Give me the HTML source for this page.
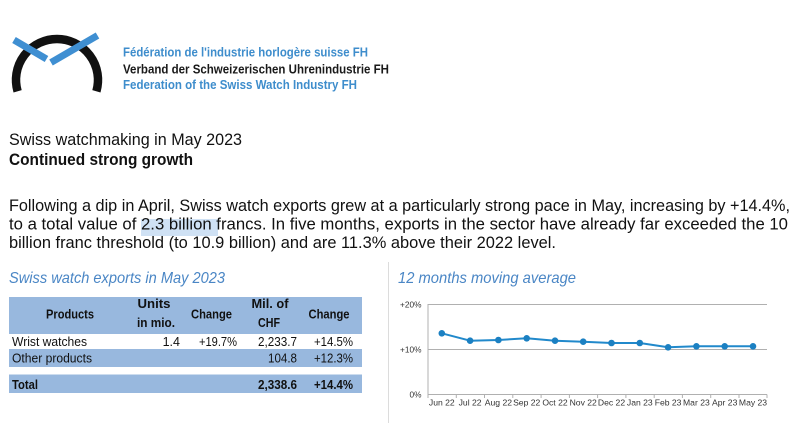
<!DOCTYPE html>
<html>
<head>
<meta charset="utf-8">
<style>
html,body{margin:0;padding:0;background:#fff;}
svg{display:block;}
text{font-family:"Liberation Sans",sans-serif;}
</style>
</head>
<body>
<svg width="800" height="423" viewBox="0 0 800 423" xmlns="http://www.w3.org/2000/svg">
  <rect width="800" height="423" fill="#ffffff"/>

  <!-- Logo -->
  <path d="M 17.6 91.3 A 41 41 0 1 1 96.4 91.3" fill="none" stroke="#111111" stroke-width="8.5"/>
  <line x1="14" y1="40" x2="46.5" y2="59" stroke="#3f8fd2" stroke-width="7"/>
  <line x1="51" y1="62.5" x2="97.5" y2="35.5" stroke="#3f8fd2" stroke-width="7"/>

  <text x="123" y="56.5" font-size="12.5" font-weight="bold" fill="#3e8dcc" textLength="245" lengthAdjust="spacingAndGlyphs">Fédération de l'industrie horlogère suisse FH</text>
  <text x="123" y="73.5" font-size="12.5" font-weight="bold" fill="#1a1a1a" textLength="266" lengthAdjust="spacingAndGlyphs">Verband der Schweizerischen Uhrenindustrie FH</text>
  <text x="123" y="89" font-size="12.5" font-weight="bold" fill="#3e8dcc" textLength="234" lengthAdjust="spacingAndGlyphs">Federation of the Swiss Watch Industry FH</text>

  <!-- Titles -->
  <text x="9" y="145" font-size="16.5" fill="#111111" textLength="233" lengthAdjust="spacingAndGlyphs">Swiss watchmaking in May 2023</text>
  <text x="9" y="165" font-size="16.5" font-weight="bold" fill="#111111" textLength="184" lengthAdjust="spacingAndGlyphs">Continued strong growth</text>

  <!-- Paragraph -->
  <rect x="141" y="219" width="77" height="17" fill="#cfe1f4"/>
  <text x="9" y="211" font-size="16.5" fill="#111111" textLength="781" lengthAdjust="spacingAndGlyphs">Following a dip in April, Swiss watch exports grew at a particularly strong pace in May, increasing by +14.4%,</text>
  <text x="9" y="229.5" font-size="16.5" fill="#111111" textLength="779" lengthAdjust="spacingAndGlyphs">to a total value of 2.3 billion francs. In five months, exports in the sector have already far exceeded the 10</text>
  <text x="9" y="248" font-size="16.5" fill="#111111" textLength="547" lengthAdjust="spacingAndGlyphs">billion franc threshold (to 10.9 billion) and are 11.3% above their 2022 level.</text>

  <!-- Separator -->
  <line x1="388.5" y1="262" x2="388.5" y2="423" stroke="#dcdcdc" stroke-width="1"/>

  <!-- Section titles -->
  <text x="9" y="283" font-size="16" font-style="italic" fill="#4a86c5" textLength="216" lengthAdjust="spacingAndGlyphs">Swiss watch exports in May 2023</text>
  <text x="398" y="283" font-size="16" font-style="italic" fill="#4a86c5" textLength="178" lengthAdjust="spacingAndGlyphs">12 months moving average</text>

  <!-- Table -->
  <rect x="9" y="297" width="353" height="37" fill="#98b8de"/>
  <rect x="9" y="349" width="353" height="18" fill="#98b8de"/>
  <rect x="9" y="374.5" width="353" height="18.5" fill="#98b8de"/>

  <g font-size="12.5" font-weight="bold" fill="#111111">
    <text x="70" y="318.5" text-anchor="middle" textLength="48" lengthAdjust="spacingAndGlyphs">Products</text>
    <text x="154" y="308" text-anchor="middle" textLength="33" lengthAdjust="spacingAndGlyphs">Units</text>
    <text x="156" y="327" text-anchor="middle" textLength="38" lengthAdjust="spacingAndGlyphs">in mio.</text>
    <text x="211.5" y="318.5" text-anchor="middle" textLength="41" lengthAdjust="spacingAndGlyphs">Change</text>
    <text x="270" y="308" text-anchor="middle" textLength="37" lengthAdjust="spacingAndGlyphs">Mil. of</text>
    <text x="269" y="327" text-anchor="middle" textLength="22" lengthAdjust="spacingAndGlyphs">CHF</text>
    <text x="329" y="318.5" text-anchor="middle" textLength="41" lengthAdjust="spacingAndGlyphs">Change</text>
  </g>

  <g font-size="12.5" fill="#111111">
    <text x="12" y="346" textLength="75" lengthAdjust="spacingAndGlyphs">Wrist watches</text>
    <text x="180" y="346" text-anchor="end">1.4</text>
    <text x="237" y="346" text-anchor="end" textLength="38" lengthAdjust="spacingAndGlyphs">+19.7%</text>
    <text x="297" y="346" text-anchor="end" textLength="39" lengthAdjust="spacingAndGlyphs">2,233.7</text>
    <text x="353" y="346" text-anchor="end" textLength="39" lengthAdjust="spacingAndGlyphs">+14.5%</text>

    <text x="12" y="362.5" textLength="80" lengthAdjust="spacingAndGlyphs">Other products</text>
    <text x="297" y="362.5" text-anchor="end" textLength="29" lengthAdjust="spacingAndGlyphs">104.8</text>
    <text x="353" y="362.5" text-anchor="end" textLength="39" lengthAdjust="spacingAndGlyphs">+12.3%</text>
  </g>
  <g font-size="12.5" font-weight="bold" fill="#111111">
    <text x="12" y="389" textLength="26" lengthAdjust="spacingAndGlyphs">Total</text>
    <text x="297" y="389" text-anchor="end" textLength="39" lengthAdjust="spacingAndGlyphs">2,338.6</text>
    <text x="353" y="389" text-anchor="end" textLength="39" lengthAdjust="spacingAndGlyphs">+14.4%</text>
  </g>

  <!-- Chart -->
  <g stroke="#b0b0b0" stroke-width="1" fill="none">
    <line x1="428" y1="304.5" x2="767" y2="304.5"/>
    <line x1="428" y1="349.5" x2="767" y2="349.5"/>
    <line x1="428" y1="394.5" x2="767" y2="394.5"/>
    <line x1="428" y1="304" x2="428" y2="398"/>
    <line x1="456.3" y1="394.5" x2="456.3" y2="398"/>
    <line x1="484.5" y1="394.5" x2="484.5" y2="398"/>
    <line x1="512.8" y1="394.5" x2="512.8" y2="398"/>
    <line x1="541.1" y1="394.5" x2="541.1" y2="398"/>
    <line x1="569.4" y1="394.5" x2="569.4" y2="398"/>
    <line x1="597.6" y1="394.5" x2="597.6" y2="398"/>
    <line x1="625.9" y1="394.5" x2="625.9" y2="398"/>
    <line x1="654.2" y1="394.5" x2="654.2" y2="398"/>
    <line x1="682.4" y1="394.5" x2="682.4" y2="398"/>
    <line x1="710.7" y1="394.5" x2="710.7" y2="398"/>
    <line x1="739" y1="394.5" x2="739" y2="398"/>
    <line x1="767" y1="394.5" x2="767" y2="398"/>
  </g>

  <g font-size="8.3" fill="#333333">
    <text x="421.5" y="307.5" text-anchor="end">+20%</text>
    <text x="421.5" y="352.5" text-anchor="end">+10%</text>
    <text x="421.5" y="397.5" text-anchor="end">0%</text>
  </g>
  <g font-size="8.6" fill="#333333" text-anchor="middle">
    <text x="441.8" y="405.5">Jun 22</text>
    <text x="470.1" y="405.5">Jul 22</text>
    <text x="498.4" y="405.5">Aug 22</text>
    <text x="526.7" y="405.5">Sep 22</text>
    <text x="555" y="405.5">Oct 22</text>
    <text x="583.2" y="405.5">Nov 22</text>
    <text x="611.5" y="405.5">Dec 22</text>
    <text x="639.8" y="405.5">Jan 23</text>
    <text x="668.1" y="405.5">Feb 23</text>
    <text x="696.4" y="405.5">Mar 23</text>
    <text x="724.7" y="405.5">Apr 23</text>
    <text x="753" y="405.5">May 23</text>
  </g>

  <polyline fill="none" stroke="#2189cb" stroke-width="2" stroke-linejoin="round"
    points="441.8,333.3 470.1,340.7 498.4,340 526.7,338.3 555,340.7 583.2,341.7 611.5,343 639.8,343 668.1,347.3 696.4,346.3 724.7,346.3 753,346.3"/>
  <g fill="#1b80c2">
    <circle cx="441.8" cy="333.3" r="3.3"/>
    <circle cx="470.1" cy="340.7" r="3.3"/>
    <circle cx="498.4" cy="340" r="3.3"/>
    <circle cx="526.7" cy="338.3" r="3.3"/>
    <circle cx="555" cy="340.7" r="3.3"/>
    <circle cx="583.2" cy="341.7" r="3.3"/>
    <circle cx="611.5" cy="343" r="3.3"/>
    <circle cx="639.8" cy="343" r="3.3"/>
    <circle cx="668.1" cy="347.3" r="3.3"/>
    <circle cx="696.4" cy="346.3" r="3.3"/>
    <circle cx="724.7" cy="346.3" r="3.3"/>
    <circle cx="753" cy="346.3" r="3.3"/>
  </g>
</svg>
</body>
</html>
